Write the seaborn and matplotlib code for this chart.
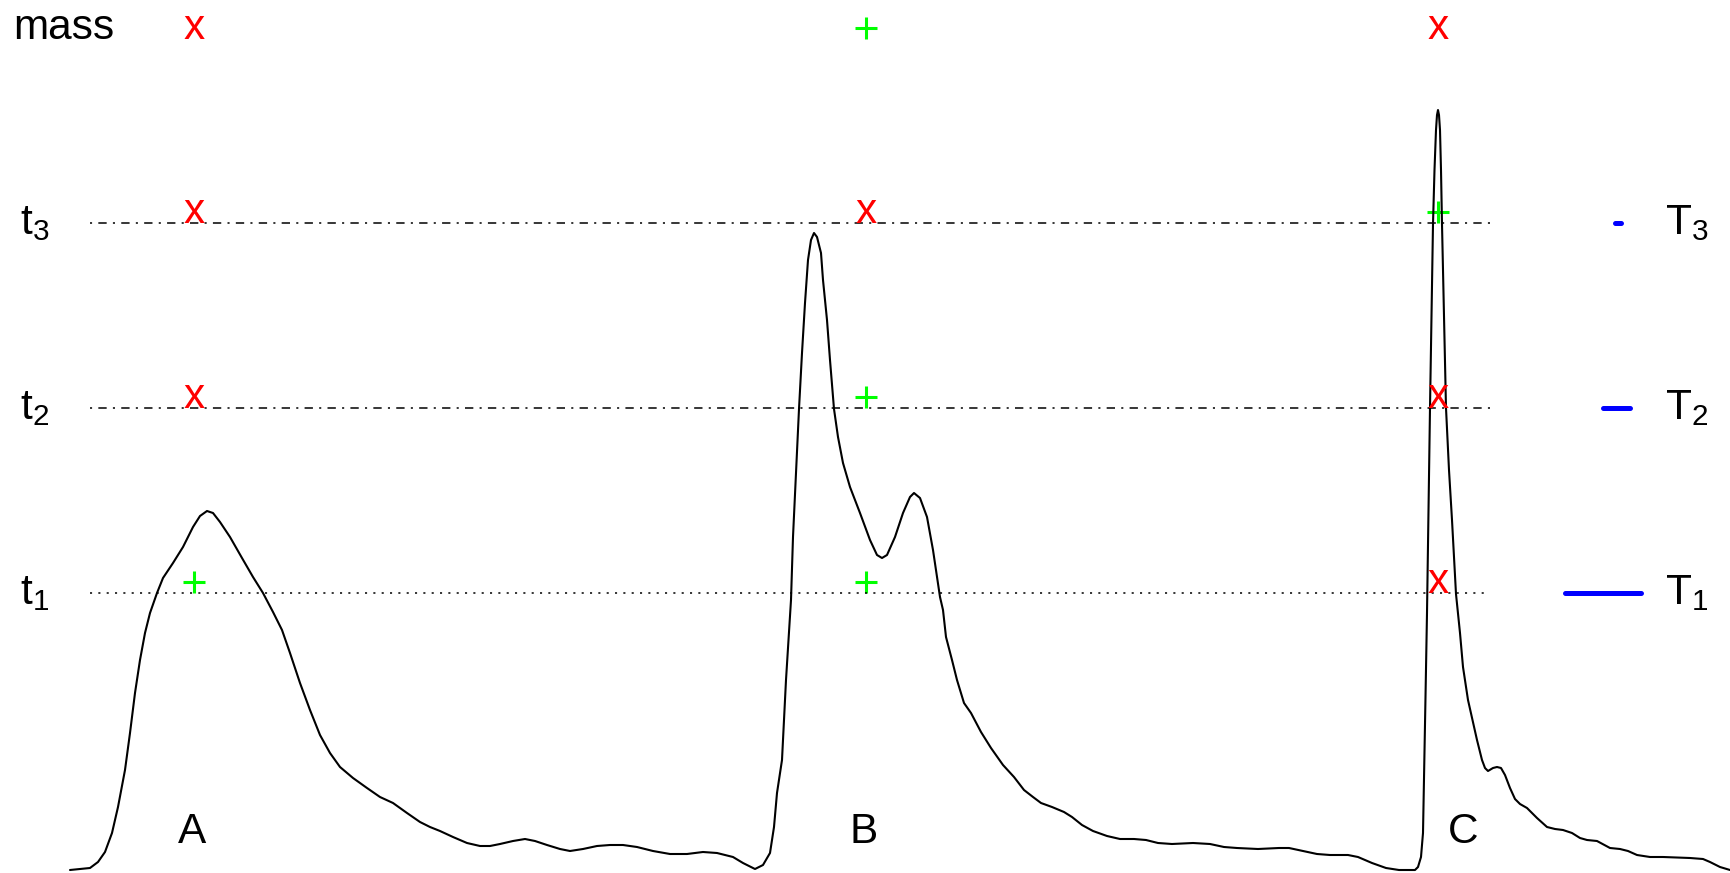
import matplotlib
matplotlib.use("Agg")
import matplotlib.pyplot as plt
import pandas as pd
import seaborn as sns

# Chromatogram trace: scan number vs. detector signal
scan = [70, 80, 90, 98, 105, 112, 118, 125, 130, 135, 140, 145, 150, 157, 163,
        173, 183, 193, 200, 207, 213, 220, 230, 242, 253, 263, 273, 282, 290,
        300, 310, 320, 330, 340, 353, 367, 380, 393, 407, 420, 430, 440, 453,
        467, 480, 490, 500, 513, 525, 535, 547, 560, 570, 583, 597, 610, 623,
        637, 653, 670, 687, 703, 717, 733, 743, 755, 763, 770, 774, 777, 782,
        786, 791, 793, 797, 799, 802, 805, 808, 811, 814, 817, 821, 823, 827,
        830, 834, 838, 843, 850, 860, 870, 877, 882, 887, 895, 903, 910, 914,
        920, 927, 933, 940, 943, 946, 952, 957, 964, 971, 981, 991, 1003, 1014,
        1024, 1033, 1041, 1052, 1064, 1072, 1082, 1093, 1107, 1120, 1134, 1146,
        1158, 1172, 1193, 1210, 1224, 1237, 1258, 1279, 1289, 1303, 1317, 1330,
        1348, 1358, 1372, 1386, 1399, 1415, 1418, 1421, 1423, 1424, 1425.5,
        1427, 1428.5, 1430, 1431.5, 1433, 1434.5, 1436, 1437, 1438, 1439, 1440,
        1441, 1442, 1444, 1446, 1449, 1452, 1456, 1460, 1463, 1468, 1477, 1482,
        1485, 1488, 1493, 1497, 1501, 1505, 1510, 1515, 1520, 1527, 1537, 1547,
        1555, 1563, 1572, 1580, 1587, 1597, 1610, 1620, 1628, 1637, 1650, 1663,
        1690, 1703, 1710, 1720, 1730]
signal = [0, 1, 2, 8, 18, 37, 63, 100, 137, 177, 210, 237, 257, 277, 292,
          307, 323, 343, 354, 359, 357, 348, 333, 312, 293, 277, 258, 240, 217,
          187, 160, 135, 117, 103, 92, 82, 73, 67, 57, 48, 43, 39, 33,
          27, 24, 24, 26, 29, 31, 29, 25, 21, 19, 21, 24, 25, 25,
          23, 19, 16, 16, 18, 17, 13, 7, 1, 5, 17, 43, 77, 110,
          190, 270, 333, 417, 461, 517, 567, 610, 630, 637, 633, 617, 590, 550,
          510, 461, 433, 407, 383, 357, 330, 315, 312, 315, 333, 357, 373, 377,
          372, 353, 320, 273, 260, 233, 210, 190, 167, 157, 138, 122, 105, 93,
          80, 73, 67, 63, 58, 53, 45, 39, 34, 31, 31, 30,
          27, 26, 27, 26, 23, 22, 21, 22, 22, 19, 16, 15,
          15, 13, 7, 2, 0, 0, 3, 13, 37, 90, 173,
          257, 360, 462, 554, 646, 700, 740, 755, 760, 755, 740,
          700, 646, 554, 462, 400, 350, 276, 237, 203, 170, 130, 110,
          102, 99, 102, 103, 102, 95, 82, 71, 66, 62, 52, 43,
          41, 40, 37, 32, 30, 29, 22, 21, 19, 15, 13, 13,
          12, 11, 8, 3, 0]

# Intensity thresholds
threshold_labels = ["t$_\\mathrm{1}$", "t$_\\mathrm{2}$", "t$_\\mathrm{3}$"]
threshold_levels = [277, 462, 647]
mass_level = 831

# Peaks: apex scans carry the detection symbols, labels sit beneath
peak_names = ["A", "B", "C"]
peak_scans = [194, 866, 1438]
peak_label_scans = [192, 864, 1463]
peak_label_level = 27

# Detection outcome per row (mass, t3, t2, t1) for each peak
row_levels = [mass_level, 647, 462, 277]
symbols_A = ["x", "x", "x", "+"]
symbols_B = ["+", "x", "+", "+"]
symbols_C = ["x", "+", "x", "x"]

# Duration bars T1..T3 (start / end scan)
duration_labels = ["T$_\\mathrm{1}$", "T$_\\mathrm{2}$", "T$_\\mathrm{3}$"]
duration_start = [1564.5, 1602.5, 1614.5]
duration_end = [1640.5, 1629.5, 1620.5]

sns.set_theme(style="white")
plt.rcParams["font.family"] = ["Liberation Sans", "DejaVu Sans"]
plt.rcParams["text.color"] = "black"
plt.rcParams["mathtext.fontset"] = "custom"
plt.rcParams["mathtext.rm"] = "Liberation Sans"
plt.rcParams["mathtext.it"] = "Liberation Sans"
plt.rcParams["lines.scale_dashes"] = False

fig = plt.figure(figsize=(17.3, 8.73), dpi=100)
ax = fig.add_axes([0, 0, 1, 1])
ax.set_xlim(0, 1730)
ax.set_ylim(-3, 870)
ax.axis("off")

FS = 30.5

# threshold lines
line_x = [90, 1490]
for lvl, lab in zip(threshold_levels, threshold_labels):
    dashes = [1.5, 4.5] if lvl == threshold_levels[0] else [1.5, 4.5, 6.0, 4.5]
    ax.plot(line_x, [lvl, lvl], color="black", lw=1.1, dashes=dashes)
    ax.text(20, lvl, lab, fontsize=FS, ha="left", va="center", color="black")

# chromatogram
trace = pd.DataFrame({"scan": scan, "signal": signal})
sns.lineplot(data=trace, x="scan", y="signal", color="black", linewidth=1.5,
             sort=False, estimator=None, ax=ax)
for ln in ax.lines[-1:]:
    ln.set_solid_joinstyle("round")

# mass row label and peak labels
ax.text(13, mass_level, "mass", fontsize=FS, ha="left", va="baseline",
        color="black")
for name, sx in zip(peak_names, peak_label_scans):
    ax.text(sx, peak_label_level, name, fontsize=FS, ha="center",
            va="baseline", color="black")

# detection symbols
plus_x, plus_y = [], []
for sx, syms in zip(peak_scans, [symbols_A, symbols_B, symbols_C]):
    for lvl, s in zip(row_levels, syms):
        if s == "x":
            ax.text(sx, lvl, "x", fontsize=FS, color="#ff0000",
                    ha="center", va="baseline")
        else:
            plus_x.append(sx)
            plus_y.append(lvl + 11.5)
sns.scatterplot(x=plus_x, y=plus_y, marker="+", s=16.5 ** 2, color="#00ff00",
                linewidth=2.2, ax=ax)

# duration bars
for x0, x1, lvl, lab in zip(duration_start, duration_end, threshold_levels,
                            duration_labels):
    ax.plot([x0, x1], [lvl, lvl], color="#0000ff", lw=3.6,
            solid_capstyle="round")
    ax.text(1665, lvl, lab, fontsize=FS, ha="left", va="center", color="black")

fig.savefig("out.png", dpi=100, facecolor="white")
